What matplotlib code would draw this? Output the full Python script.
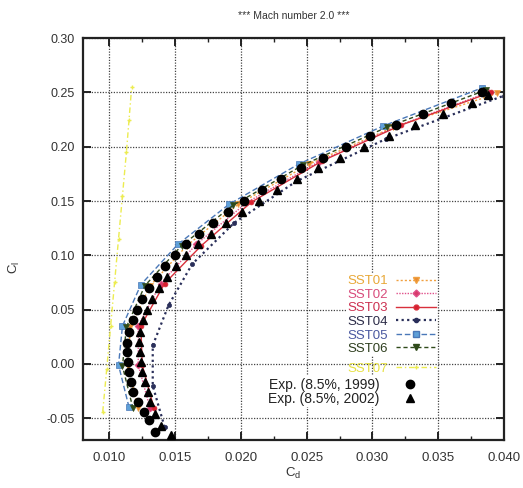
"""Drag polar at Mach 2.0: SST model variants vs. experiment."""

import matplotlib
matplotlib.use("Agg")
import matplotlib.pyplot as plt
from matplotlib.lines import Line2D
from matplotlib.ticker import MultipleLocator

plt.rcParams["font.family"] = ["Liberation Sans", "DejaVu Sans"]
plt.rcParams["axes.unicode_minus"] = False

# ---- data ----
sst05_cl = [-0.040, -0.001, 0.035, 0.073, 0.110, 0.147, 0.184, 0.219, 0.254]
sst05_cd = [0.0115, 0.0107, 0.0110, 0.0124, 0.0152, 0.0191, 0.0244, 0.0308, 0.0383]

sst06_cl = [-0.041, -0.002, 0.034, 0.072, 0.109, 0.146, 0.183, 0.218, 0.252]
sst06_cd = [0.0118, 0.0110, 0.0113, 0.0127, 0.0155, 0.0194, 0.0247, 0.0311, 0.0386]

sst01_cl = [-0.041, -0.002, 0.034, 0.072, 0.109, 0.147, 0.184, 0.218, 0.249]
sst01_cd = [0.0122, 0.0114, 0.0116, 0.0131, 0.0159, 0.0198, 0.0252, 0.0316, 0.0395]

sst02_cl = [-0.041, -0.001, 0.035, 0.074, 0.110, 0.149, 0.186, 0.219, 0.250]
sst02_cd = [0.0131, 0.0122, 0.0122, 0.0139, 0.0166, 0.0205, 0.0259, 0.0319, 0.0388]

sst03_cl = [-0.041, -0.001, 0.035, 0.074, 0.109, 0.149, 0.187, 0.220, 0.250]
sst03_cd = [0.0134, 0.0125, 0.0124, 0.0142, 0.0170, 0.0208, 0.0262, 0.0322, 0.0390]

sst04_cl = [-0.058, -0.020, 0.017, 0.054, 0.092, 0.130, 0.168, 0.207, 0.247]
sst04_cd = [0.0142, 0.0133, 0.0133, 0.0145, 0.0163, 0.0195, 0.0242, 0.0310, 0.0400]

sst07_cl = [-0.044, -0.005, 0.035, 0.075, 0.115, 0.155, 0.195, 0.225, 0.255]
sst07_cd = [0.0095, 0.0098, 0.0101, 0.0104, 0.0107, 0.0110, 0.0113, 0.0115, 0.0117]

exp99_cl = [-0.063, -0.052, -0.044, -0.035, -0.026, -0.017, -0.007, 0.002,
            0.011, 0.019, 0.029, 0.040, 0.050, 0.060, 0.070, 0.080, 0.090,
            0.100, 0.110, 0.120, 0.130, 0.140, 0.150, 0.160, 0.170, 0.180,
            0.190, 0.200, 0.210, 0.220, 0.230, 0.240, 0.250]
exp99_cd = [0.01351, 0.01305, 0.01260, 0.01221, 0.01183, 0.01168, 0.01153,
            0.01145, 0.01137, 0.01137, 0.01153, 0.01180, 0.01210, 0.01250,
            0.01300, 0.01360, 0.01425, 0.01500, 0.01585, 0.01680, 0.01785,
            0.01900, 0.02025, 0.02160, 0.02305, 0.02460, 0.02625, 0.02800,
            0.02985, 0.03180, 0.03385, 0.03600, 0.03830]

exp02_cl = [-0.065, -0.057, -0.046, -0.035, -0.026, -0.017, -0.007, 0.002,
            0.011, 0.020, 0.029, 0.040, 0.050, 0.060, 0.070, 0.080, 0.090,
            0.100, 0.110, 0.120, 0.130, 0.140, 0.150, 0.160, 0.170, 0.180,
            0.190, 0.200, 0.210, 0.220, 0.230, 0.240, 0.248]
exp02_cd = [0.01466, 0.01390, 0.01351, 0.01310, 0.01295, 0.01270, 0.01252,
            0.01240, 0.01230, 0.01228, 0.01232, 0.01255, 0.01285, 0.01325,
            0.01375, 0.01435, 0.01505, 0.01585, 0.01675, 0.01775, 0.01885,
            0.02005, 0.02135, 0.02275, 0.02425, 0.02585, 0.02755, 0.02935,
            0.03125, 0.03325, 0.03535, 0.03755, 0.03880]

x_ticks = [0.010, 0.015, 0.020, 0.025, 0.030, 0.035, 0.040]
y_ticks = [-0.05, 0.00, 0.05, 0.10, 0.15, 0.20, 0.25, 0.30]

# ---- styles ----
sst_styles = [
    # label, cd, cl, colour, linestyle, linewidth, marker, marker size, face
    ("SST01", sst01_cd, sst01_cl, "#f0a040", (0, (1.5, 1.5)), 1.0, "v", 4.5, "#e88a30"),
    ("SST02", sst02_cd, sst02_cl, "#e0508a", (0, (1, 1)), 1.0, "D", 3.5, "#d83a6a"),
    ("SST03", sst03_cd, sst03_cl, "#d8303c", "-", 1.0, "o", 3.5, "#d82030"),
    ("SST04", sst04_cd, sst04_cl, "#2a2f5a", (0, (1, 1.5)), 1.6, "o", 3.0, "#2a2f5a"),
    ("SST05", sst05_cd, sst05_cl, "#4a78b8", (0, (4, 2)), 1.0, "s", 5.0, "#5fa0d8"),
    ("SST06", sst06_cd, sst06_cl, "#2f4a1a", (0, (3, 2)), 1.0, "v", 4.5, "#2f4a1a"),
]
label_colors = ["#e8a838", "#d84c7c", "#cc3050", "#2c2c48", "#4a58a0", "#2e3e1e"]
sst07_color = "#ecec50"

fig = plt.figure(figsize=(5.23, 4.88), dpi=100, facecolor="white")
ax = fig.add_axes([0.1587, 0.0984, 0.805, 0.8236])

ax.plot(sst07_cd, sst07_cl, color=sst07_color, linestyle=(0, (4, 2, 1, 2)),
        linewidth=1.0, marker="+", markersize=3, zorder=2)

handles = []
for lab, cd, cl, col, ls, lw, mk, ms, mfc in sst_styles:
    ax.plot(cd, cl, color=col, linestyle=ls, linewidth=lw, marker=mk,
            markersize=ms, markerfacecolor=mfc, markeredgecolor=col,
            markeredgewidth=0.5, zorder=2)
    handles.append(Line2D([], [], color=col, linestyle=ls, linewidth=lw,
                          marker=mk, markersize=ms, markerfacecolor=mfc,
                          markeredgecolor=col))

# experiment on top of the thin CFD lines
ax.plot(exp99_cd, exp99_cl, "o", color="black", markersize=6, zorder=3)
ax.plot(exp02_cd, exp02_cl, "^", color="black", markersize=6, zorder=3)

ax.set_xlim(0.008, 0.040)
ax.set_ylim(-0.07, 0.30)
ax.set_xticks(x_ticks)
ax.set_yticks(y_ticks)
ax.set_xticklabels([f"{v:.3f}" for v in x_ticks])
ax.set_yticklabels([f"{v:.2f}" for v in y_ticks])
ax.xaxis.set_minor_locator(MultipleLocator(0.0025))

ax.tick_params(which="both", direction="in", top=True, right=True,
               colors="#222222", labelcolor="#333333")
ax.tick_params(which="major", length=6, width=1.4)
ax.tick_params(which="minor", length=3, width=1.0)
ax.tick_params(axis="x", labelsize=9.5, pad=9)
ax.tick_params(axis="y", labelsize=9, pad=6)

ax.grid(True, which="major", color="#444444", linestyle=(0, (1, 1.2)),
        linewidth=0.9)
for sp in ax.spines.values():
    sp.set_linewidth(1.6)
    sp.set_color("#222222")

ax.set_title("*** Mach number 2.0 ***", fontsize=7.5, color="#333333", pad=14)
ax.set_xlabel("C$_\\mathregular{d}$", fontsize=9.5, color="#333333", labelpad=1)
ax.set_ylabel("C$_\\mathregular{l}$", fontsize=9.5, color="#333333")
ax.yaxis.set_label_coords(-0.145, 0.43)

# legend for the SST variants
leg1 = ax.legend(handles, [s[0] for s in sst_styles], loc="upper left",
                 bbox_to_anchor=(0.61, 0.43), markerfirst=False, numpoints=1,
                 frameon=True, facecolor="white", edgecolor="none",
                 framealpha=1, fancybox=False, fontsize=9.5, handlelength=3.0,
                 handletextpad=0.6, labelspacing=0.1, borderpad=0.1,
                 labelcolor=label_colors)
leg1.set_zorder(5)
ax.add_artist(leg1)

leg2 = ax.legend([Line2D([], [], color=sst07_color,
                         linestyle=(0, (4, 2, 1, 2)), linewidth=1.0,
                         marker="+", markersize=3)],
                 ["SST07"], loc="upper left", bbox_to_anchor=(0.61, 0.212),
                 markerfirst=False, numpoints=1, frameon=False, fontsize=9.5,
                 handlelength=3.0, handletextpad=0.6, borderpad=0.1,
                 labelcolor=["#e6e040"])
leg2.set_zorder(5)
ax.add_artist(leg2)

exp_handles = [Line2D([], [], linestyle="none", marker="o", color="black",
                      markersize=6),
               Line2D([], [], linestyle="none", marker="^", color="black",
                      markersize=6)]
leg3 = ax.legend(exp_handles, ["Exp. (8.5%, 1999)", "Exp. (8.5%, 2002)"],
                 loc="upper left", bbox_to_anchor=(0.42, 0.176),
                 markerfirst=False, numpoints=1, frameon=True,
                 facecolor="white", edgecolor="none", framealpha=1,
                 fancybox=False, fontsize=10, handlelength=3.6,
                 handletextpad=0.4, labelspacing=0.0, borderpad=0.1,
                 labelcolor="#222222")
leg3.set_zorder(5)

fig.savefig("out.png", dpi=100, facecolor="white")
